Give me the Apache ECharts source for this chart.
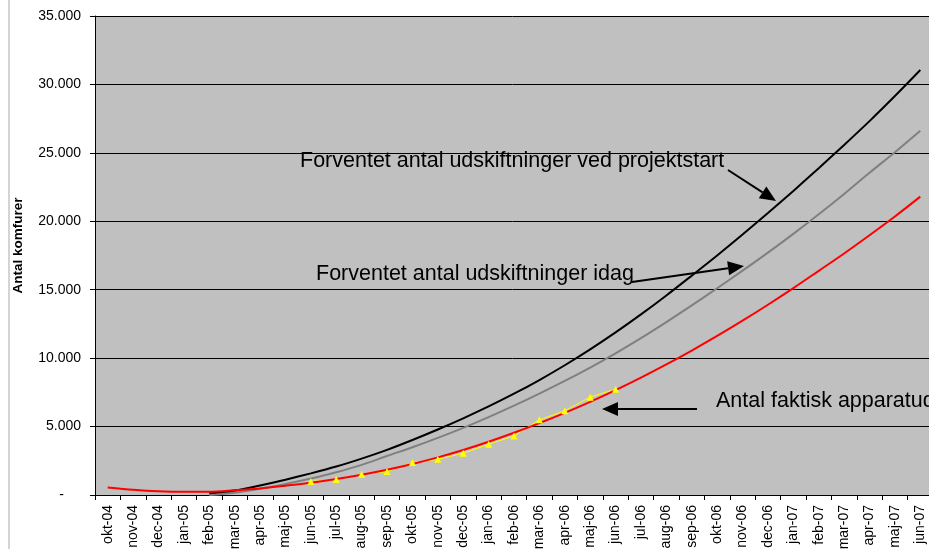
<!DOCTYPE html>
<html>
<head>
<meta charset="utf-8">
<script src="https://cdn.jsdelivr.net/npm/echarts@6/dist/echarts.min.js"></script>
<style>
  html, body { margin: 0; padding: 0; background: #fff; }
  #chart { width: 929px; height: 549px; }
</style>
</head>
<body>
<div id="chart"></div>
<script>
// categories (months, Danish)
var months = ['okt-04', 'nov-04', 'dec-04', 'jan-05', 'feb-05', 'mar-05', 'apr-05', 'maj-05', 'jun-05',
    'jul-05', 'aug-05', 'sep-05', 'okt-05', 'nov-05', 'dec-05', 'jan-06', 'feb-06', 'mar-06', 'apr-06',
    'maj-06', 'jun-06', 'jul-06', 'aug-06', 'sep-06', 'okt-06', 'nov-06', 'dec-06', 'jan-07', 'feb-07',
    'mar-07', 'apr-07', 'maj-07', 'jun-07'];

// expected replacements at project start (black)
var projektstart = [null, null, null, null, 120, 330, 700, 1120, 1580, 2080, 2660, 3300, 4020, 4785,
    5600, 6470, 7400, 8400, 9480, 10640, 11880, 13195, 14580, 16030, 17500, 19030, 20600, 22220,
    23880, 25580, 27320, 29150, 31050];

// expected replacements today (grey)
var idag = [null, null, null, null, 0, 170, 450, 800, 1200, 1660, 2200, 2850, 3490, 4175, 4910,
    5695, 6530, 7410, 8335, 9315, 10355, 11460, 12630, 13850, 15105, 16390, 17710, 19080, 20510,
    22000, 23545, 25050, 26620];

// red curve
var prognose = [550, 380, 270, 230, 230, 340, 480, 680, 900, 1170, 1485, 1850, 2270, 2750, 3290,
    3890, 4545, 5250, 6005, 6810, 7665, 8575, 9540, 10555, 11620, 12735, 13900, 15115, 16380,
    17650, 18980, 20350, 21800];

// actual replacements (yellow triangles)
var faktisk = [null, null, null, null, null, null, null, null, 985, 1130, 1520, 1710, 2370, 2610,
    3050, 3710, 4320, 5490, 6150, 7150, 7730, null, null, null, null, null, null, null, null, null,
    null, null, null];

var yTicks = { min: 0, max: 35000, interval: 5000 };

var FONT = "'Liberation Sans', Arial, sans-serif";

function fmtDk(v) {
    if (v === 0) return '{z|-}';
    return String(v).replace(/\B(?=(\d{3})+(?!\d))/g, '.');
}

// arrow helper for the annotation arrows
function arrow(x1, y1, x2, y2) {
    var ang = Math.atan2(y2 - y1, x2 - x1);
    var len = 16, half = 7;
    var bx = x2 - len * Math.cos(ang), by = y2 - len * Math.sin(ang);
    var px = -Math.sin(ang) * half, py = Math.cos(ang) * half;
    return [
        { type: 'line', shape: { x1: x1, y1: y1, x2: bx, y2: by }, style: { stroke: '#000', lineWidth: 2 }, z: 100 },
        { type: 'polygon', shape: { points: [[x2, y2], [bx + px, by + py], [bx - px, by - py]] }, style: { fill: '#000' }, z: 100 }
    ];
}

function label(x, y, text) {
    return {
        type: 'text', x: x, y: y, z: 100,
        style: { text: text, fill: '#000', font: '21.5px ' + FONT, verticalAlign: 'middle', align: 'left' }
    };
}

var graphics = [
    { type: 'line', shape: { x1: 9, y1: 0, x2: 9, y2: 549 }, style: { stroke: '#d4d4d4', lineWidth: 2 } },
    label(300, 161, 'Forventet antal udskiftninger ved projektstart'),
    label(316, 274, 'Forventet antal udskiftninger idag'),
    label(716, 401, 'Antal faktisk apparatudskiftninger')
].concat(arrow(728, 170, 776, 201))
 .concat(arrow(632, 282, 744, 266))
 .concat(arrow(697, 409, 602, 409));

var option = {
    animation: false,
    backgroundColor: '#fff',
    textStyle: { fontFamily: FONT },
    grid: {
        left: 95,
        top: 16,
        width: 838,
        height: 479,
        show: true,
        backgroundColor: '#c0c0c0',
        borderWidth: 0,
        containLabel: false,
        outerBoundsMode: 'none'
    },
    xAxis: {
        type: 'category',
        data: months,
        boundaryGap: true,
        axisLine: { lineStyle: { color: '#000', width: 1 } },
        axisTick: { show: true, length: 5, lineStyle: { color: '#000' } },
        axisLabel: { rotate: 90, interval: 0, color: '#000', fontSize: 14, margin: 10, fontFamily: FONT },
        splitLine: { show: false }
    },
    yAxis: {
        type: 'value',
        min: yTicks.min,
        max: yTicks.max,
        interval: yTicks.interval,
        name: 'Antal komfurer',
        nameLocation: 'middle',
        nameRotate: 90,
        nameGap: 70,
        nameTextStyle: { color: '#000', fontSize: 13.5, fontWeight: 'bold', fontFamily: FONT, padding: [0, 0, 0, 20] },
        axisLine: { show: true, lineStyle: { color: '#000', width: 1 } },
        axisTick: { show: true, length: 5, lineStyle: { color: '#000' } },
        axisLabel: {
            color: '#000', fontSize: 14, margin: 14, fontFamily: FONT,
            formatter: fmtDk,
            rich: { z: { fontSize: 14, color: '#000', padding: [0, 17, 0, 0], fontFamily: FONT } }
        },
        splitLine: { show: true, lineStyle: { color: '#000', width: 1 } }
    },
    series: [
        {
            name: 'Forventet antal udskiftninger idag',
            type: 'line',
            data: idag,
            showSymbol: false,
            smooth: 0.3,
            lineStyle: { color: '#808080', width: 2 },
            itemStyle: { color: '#808080' }
        },
        {
            name: 'Forventet antal udskiftninger ved projektstart',
            type: 'line',
            data: projektstart,
            showSymbol: false,
            smooth: 0.3,
            lineStyle: { color: '#000', width: 2 },
            itemStyle: { color: '#000' }
        },
        {
            name: 'Antal faktisk apparatudskiftninger',
            type: 'line',
            data: faktisk,
            symbol: 'triangle',
            symbolSize: 7,
            lineStyle: { color: '#ffff00', width: 1 },
            itemStyle: { color: '#ffff00' }
        },
        {
            name: 'Prognose',
            type: 'line',
            data: prognose,
            showSymbol: false,
            smooth: 0.3,
            lineStyle: { color: '#ff0000', width: 2 },
            itemStyle: { color: '#ff0000' }
        }
    ],
    graphic: graphics
};

var chart = echarts.init(document.getElementById('chart'));
chart.setOption(option);

window.addEventListener('resize', function () {
    chart.resize();
});
</script>
</body>
</html>
